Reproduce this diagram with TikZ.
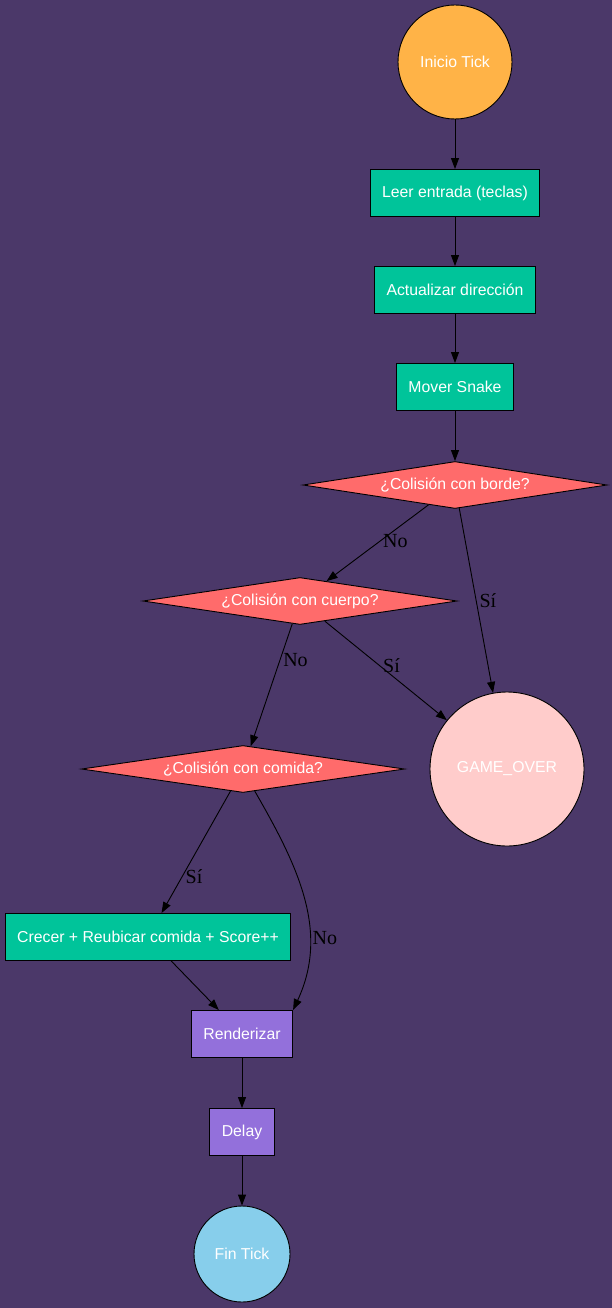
\documentclass[tikz,border=0pt]{standalone}
\usepackage{fontspec}
\setmainfont{Liberation Serif}
\setsansfont{Liberation Sans}
\usetikzlibrary{shapes.geometric,arrows.meta}
\definecolor{bgpurple}{HTML}{4B3869}
\definecolor{startorange}{HTML}{FFB347}
\definecolor{stepgreen}{HTML}{00C49A}
\definecolor{askred}{HTML}{FF6B6B}
\definecolor{overpink}{HTML}{FFCCCB}
\definecolor{drawpurple}{HTML}{9370DB}
\definecolor{endblue}{HTML}{87CEEB}

\begin{document}
\begin{tikzpicture}[x=1pt,y=1pt,
    font=\sffamily\fontsize{15.8}{18}\selectfont,
    base/.style={draw=black,line width=0.9pt,text=white},
    roundnode/.style={base,circle,inner sep=0pt},
    stepbox/.style={base,rectangle,fill=stepgreen,minimum height=47,inner xsep=12pt},
    drawbox/.style={stepbox,fill=drawpurple},
    askbox/.style={base,diamond,aspect=6.5,fill=askred,inner sep=1pt,minimum height=47},
    edge/.style={line width=0.9pt,-{Triangle[length=11pt,width=8pt]}},
    lbl/.style={right,inner sep=3pt,font=\rmfamily\fontsize{20}{22}\selectfont}]

    % fondo
    \fill[bgpurple] (0,0) rectangle (612,-1308);

    % nodos
    \node[roundnode,fill=startorange,minimum size=114] (inicio) at (455,-62) {Inicio Tick};
    \node[stepbox] (leer) at (455,-193) {Leer entrada (teclas)};
    \node[stepbox] (actualizar) at (455,-290) {Actualizar dirección};
    \node[stepbox] (mover) at (455,-387) {Mover Snake};
    \node[askbox,minimum width=304] (borde) at (455,-485) {¿Colisión con borde?};
    \node[askbox,minimum width=314] (cuerpo) at (300,-601) {¿Colisión con cuerpo?};
    \node[askbox,minimum width=323] (comida) at (243,-769) {¿Colisión con comida?};
    \node[roundnode,fill=overpink,minimum size=154] (gameover) at (507,-769) {GAME\_OVER};
    \node[stepbox] (crecer) at (148,-937) {Crecer + Reubicar comida + Score++};
    \node[drawbox] (render) at (242,-1034) {Renderizar};
    \node[drawbox] (delay) at (242,-1132) {Delay};
    \node[roundnode,fill=endblue,minimum size=96] (fin) at (242,-1254) {Fin Tick};

    % flechas
    \draw[edge] (inicio) -- (leer);
    \draw[edge] (leer) -- (actualizar);
    \draw[edge] (actualizar) -- (mover);
    \draw[edge] (mover) -- (borde);
    \draw[edge] (borde) -- node[lbl,pos=0.48] {No} (cuerpo);
    \draw[edge] (borde) -- node[lbl] {Sí} (gameover);
    \draw[edge] (cuerpo) -- node[lbl,pos=0.3] {No} (comida);
    \draw[edge] (cuerpo) -- node[lbl,pos=0.45] {Sí} (gameover);
    \draw[edge] (comida) -- node[lbl,pos=0.7] {Sí} (crecer);
    \draw[edge] (comida.-62) to[out=-60,in=65] node[lbl,pos=0.68] {No} (render.north east);
    \draw[edge] (crecer) -- (render);
    \draw[edge] (render) -- (delay);
    \draw[edge] (delay) -- (fin);

\end{tikzpicture}
\end{document}
